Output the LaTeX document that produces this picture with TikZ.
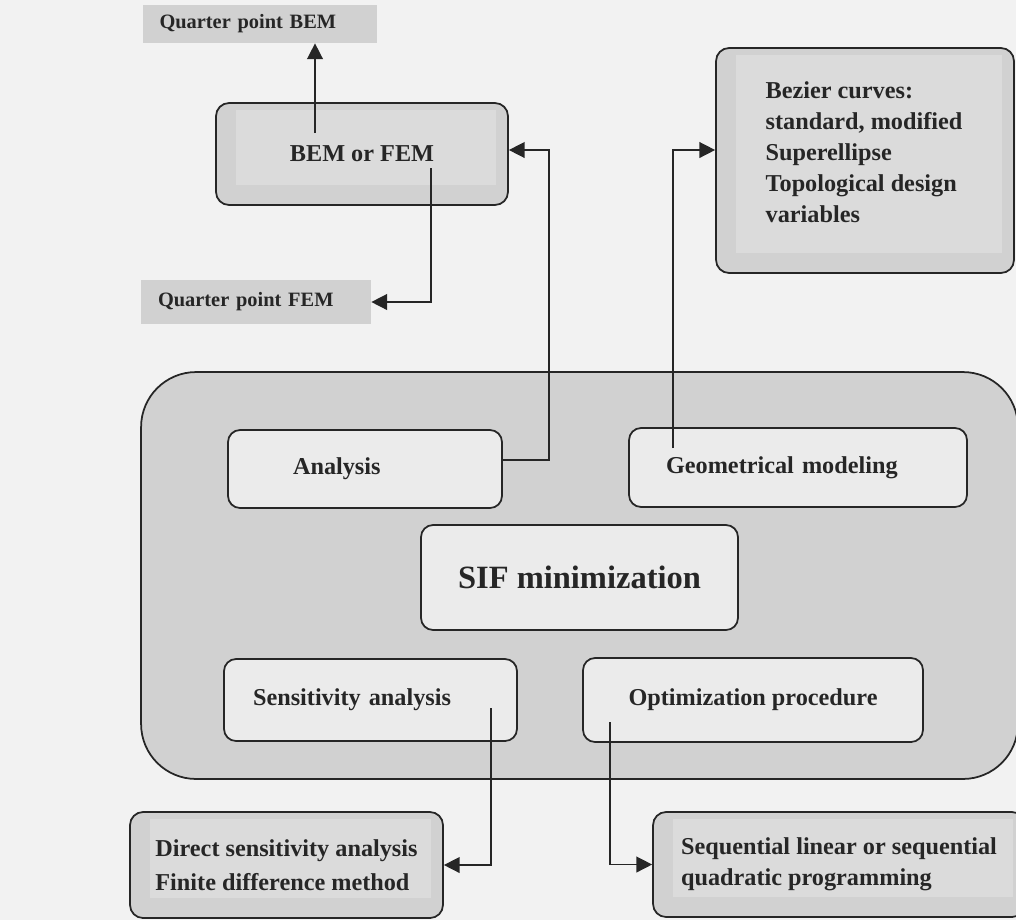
\documentclass[tikz,border=0pt]{standalone}
\usepackage{fontspec}
\setmainfont{Liberation Serif}
\usepackage{tikz}
\usetikzlibrary{arrows.meta,positioning,calc}

\definecolor{paper}{gray}{0.95}
\definecolor{boxgray}{gray}{0.82}
\definecolor{panel}{gray}{0.92}
\definecolor{softpanel}{gray}{0.86}
\definecolor{ink}{gray}{0.15}

\begin{document}
\begin{tikzpicture}[x=0.02cm,y=-0.02cm,
  outerbox/.style={draw=ink,line width=1pt,fill=boxgray,rounded corners=0.26cm},
  panelled/.style={path picture={\fill[softpanel,sharp corners] ([shift={(0.4cm,-0.14cm)}]path picture bounding box.north west)
      rectangle ([shift={(-0.24cm,0.4cm)}]path picture bounding box.south east);}},
  innerbox/.style={draw=ink,line width=1pt,fill=panel,rounded corners=0.24cm},
  tagbox/.style={fill=boxgray,inner ysep=0pt,inner xsep=0.34cm,align=left},
  txt/.style={text=ink,font=\fontsize{13.8}{17.6}\selectfont\bfseries},
  arr/.style={draw=ink,line width=0.85pt,-{Triangle[length=9pt,width=9pt]}}]
  \useasboundingbox (0,0) rectangle (1016,920); % 画像全体の範囲
  \fill[paper] (0,0) rectangle (1016,920); % 紙面の地色

  % 上部：解析手法
  \node[tagbox,txt,font=\fontsize{11.6}{14}\selectfont\bfseries,text width=4.02cm,minimum height=0.76cm] (qbem) at (260,24) {Quarter point BEM}; % 上のラベル
  \node[outerbox,panelled,txt,minimum width=5.84cm,minimum height=2.04cm] (bem) at (362,154) {BEM or FEM}; % 解析ソルバーの箱
  \node[tagbox,txt,font=\fontsize{11.6}{14}\selectfont\bfseries,text width=3.92cm,minimum height=0.88cm] (qfem) at (256,302) {Quarter point FEM}; % 下のラベル
  \node[outerbox,panelled,minimum width=5.96cm,minimum height=4.5cm] (bez) at (865,160.5) {}; % 形状表現の箱
  \node[txt,align=left] (beztext) at (864,152)
    {Bezier curves:\\standard, modified\\Superellipse\\Topological design\\variables}; % 形状表現の一覧

  % 中央：SIF最小化の大きな枠
  \node[outerbox,rounded corners=1.1cm,minimum width=17.54cm,minimum height=8.14cm] (frame) at (579.5,575.5) {}; % 外枠
  \node[innerbox,txt,inner xsep=1.3cm,text width=2.88cm,align=left,minimum height=1.56cm] (ana) at (365,469) {Analysis}; % 左上
  \node[innerbox,txt,inner xsep=0.74cm,text width=5.28cm,align=left,minimum height=1.58cm] (geo) at (798,467.5) {Geometrical modeling}; % 右上
  \node[innerbox,text=ink,font=\fontsize{18.5}{22}\selectfont\bfseries,minimum width=6.34cm,minimum height=2.1cm] (sif) at (579.5,577.5) {SIF minimization}; % 中心
  \node[innerbox,txt,inner xsep=0.58cm,text width=4.7cm,align=left,minimum height=1.64cm] (sen) at (370.5,700) {Sensitivity analysis}; % 左下
  \node[innerbox,txt,minimum width=6.8cm,minimum height=1.68cm] (opt) at (753,700) {Optimization procedure}; % 右下

  % 下部：手法の詳細
  \node[outerbox,panelled,txt,align=left,minimum width=6.26cm,minimum height=2.12cm] (dir) at (286.5,865)
    {Direct sensitivity analysis\\[1.7pt]Finite difference method}; % 感度解析の方法
  \node[outerbox,panelled,txt,align=left,minimum width=7.44cm,minimum height=2.1cm] (seq) at (839,864.5)
    {Sequential linear or sequential\\quadratic programming}; % 最適化の方法

  % 接続線の始点・折れ点
  \coordinate (bemup) at (315,133);
  \coordinate (bemdown) at (431,168);
  \coordinate (anarise) at (549,150);
  \coordinate (geoup) at (673,448);
  \coordinate (senout) at (491,708);
  \coordinate (optout) at (610,722);

  \draw[arr] (bemup) -- (bemup |- qbem.south); % BEM → 上
  \draw[arr] (bemdown) |- (qfem.east); % FEM → 左
  \draw[arr] ([yshift=0.18cm]ana.east) -| (anarise) -- (bem.east |- anarise); % 解析 → BEM or FEM
  \draw[arr] (geoup) |- ([yshift=0.21cm]bez.west); % 形状モデル → 曲線
  \draw[arr] (senout) |- (dir.east); % 感度解析 → 手法
  \draw[arr] (optout) |- (seq.west); % 最適化 → 手法
\end{tikzpicture}
\end{document}
